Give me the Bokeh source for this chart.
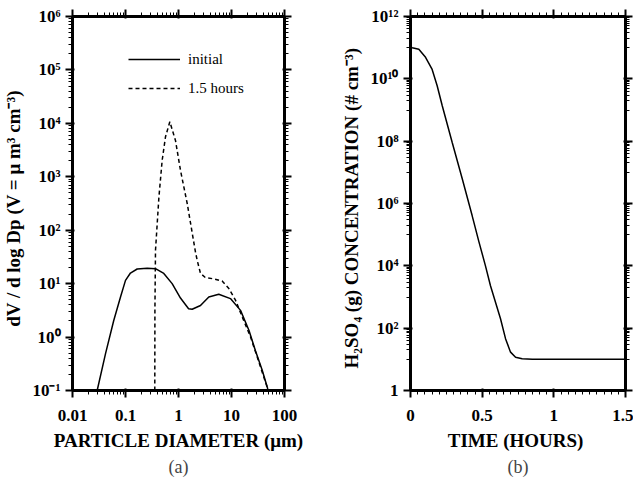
from bokeh.plotting import figure
from bokeh.layouts import row
from bokeh.models import (Range1d, FixedTicker, LogTicker, CustomJSTickFormatter, LogAxis, LinearAxis,
                          Legend, LegendItem, Title)
from bokeh.embed import file_html
from bokeh.resources import INLINE

# ---------------- data: panel (a) ----------------
# particle diameter (um) and dV/dlogDp (um^3 cm^-3)
d_initial = [0.0292, 0.042, 0.060, 0.0805, 0.100, 0.124, 0.166, 0.257, 0.368, 0.528, 0.759,
             1.09, 1.55, 1.81, 2.60, 3.73, 5.75, 9.55, 14.8, 21.4, 28.2, 38.0, 48.4]
v_initial = [0.1, 0.49, 2.04, 5.62, 11.5, 15.8, 18.8, 19.5, 19.1, 15.5, 10.0,
             5.37, 3.39, 3.31, 3.89, 5.62, 6.31, 5.25, 3.16, 1.33, 0.56, 0.24, 0.107]
d_15h = [0.357, 0.359, 0.368, 0.427, 0.492, 0.569, 0.686, 0.877, 1.09, 1.46, 2.09, 2.25,
         2.60, 3.24, 4.63, 6.65, 8.91, 11.9, 17.0, 22.9, 30.5, 40.7, 48.4]
v_15h = [0.1, 3.16, 41.7, 417, 2040, 5620, 10700, 4790, 1320, 316, 38.9, 27.5,
         15.5, 12.9, 12.3, 11.2, 8.1, 4.9, 2.04, 1.0, 0.427, 0.178, 0.107]
legend_labels = ["initial", "1.5 hours"]

# ---------------- data: panel (b) ----------------
t_hours = [0.0, 0.012, 0.058, 0.105, 0.151, 0.186, 0.221, 0.291, 0.361, 0.43, 0.477, 0.523,
           0.558, 0.628, 0.663, 0.698, 0.733, 0.779, 0.85, 1.0, 1.25, 1.5]
h2so4 = [1.05e11, 1.0e11, 8.9e10, 4.9e10, 2.0e10, 6.0e9, 1.4e9, 9.1e7, 6.2e6, 4.1e5, 6.0e4, 1.0e4,
         2.3e3, 2.0e2, 46, 17, 11.7, 10.5, 10, 10, 10, 10]
b_x_ticks = [0, 0.5, 1, 1.5]

SERIF = "Liberation Serif"

sup_code = """
const sup = {"0":"\u2070","1":"\u00b9","2":"\u00b2","3":"\u00b3","4":"\u2074","5":"\u2075",
             "6":"\u2076","7":"\u2077","8":"\u2078","9":"\u2079","-":"\u207b"};
if (tick <= 0) return "";
const e = Math.round(Math.log10(tick));
if (e == 0 && one) return "1";
return "10" + String(e).split("").map(c => sup[c]).join("");
"""
num_code = "return parseFloat(tick.toPrecision(6)).toString();"


def style_axis(ax):
    ax.axis_line_width = 3
    ax.axis_line_color = "black"
    ax.major_tick_out = 7
    ax.major_tick_line_width = 2
    ax.minor_tick_out = 4
    ax.major_label_text_font = SERIF
    ax.major_label_text_font_style = "bold"
    ax.major_label_text_font_size = "17px"
    ax.major_label_text_color = "black"
    ax.axis_label_text_font = SERIF
    ax.axis_label_text_font_style = "bold"
    ax.axis_label_text_font_size = "19px"
    ax.axis_label_text_color = "black"


def mirror(ax):
    style_axis(ax)
    ax.formatter = CustomJSTickFormatter(code="return ''")
    ax.major_label_text_font_size = "1px"
    ax.major_label_standoff = 0


def base_fig(xtype, min_left, fw, min_right, min_top, min_bottom, x_range, y_range):
    p = figure(x_axis_type=xtype, y_axis_type="log", x_range=x_range, y_range=y_range,
               frame_width=fw, frame_height=374, min_border_left=min_left,
               min_border_right=min_right, min_border_top=min_top, min_border_bottom=min_bottom,
               output_backend="svg", toolbar_location=None)
    p.xgrid.visible = False
    p.ygrid.visible = False
    p.outline_line_color = "black"
    p.outline_line_width = 2
    p.background_fill_color = "white"
    p.border_fill_color = "white"
    return p


# ---------------- panel (a) ----------------
pa = base_fig("log", 64, 212, 34, 15, 91, Range1d(0.01, 100), Range1d(0.1, 1e6))

r1 = pa.line(d_initial, v_initial, line_color="black", line_width=1.5)
r2 = pa.line(d_15h, v_15h, line_color="black", line_width=1.5, line_dash="4 3")

xa = pa.xaxis[0]
xa.ticker = LogTicker(num_minor_ticks=10)
xa.formatter = CustomJSTickFormatter(code=num_code)
xa.axis_label = "PARTICLE DIAMETER (\u03bcm)"
style_axis(xa)
xa.major_label_standoff = 12
xa.axis_label_standoff = 6

ya = pa.yaxis[0]
ya.ticker = LogTicker(num_minor_ticks=10)
ya.formatter = CustomJSTickFormatter(code=sup_code, args=dict(one=False))
ya.axis_label = "dV / d log  Dp  (V = \u03bc m\u00b3 cm\u207b\u00b3)"
style_axis(ya)
ya.major_label_standoff = 5
ya.axis_label_standoff = 5

top_a = LogAxis(ticker=LogTicker(num_minor_ticks=10))
right_a = LogAxis(ticker=LogTicker(num_minor_ticks=10))
mirror(top_a)
mirror(right_a)
pa.add_layout(top_a, "above")
pa.add_layout(right_a, "right")

leg = Legend(items=[LegendItem(label=legend_labels[0], renderers=[r1]),
                    LegendItem(label=legend_labels[1], renderers=[r2])],
             location=(56, 292), glyph_width=52, glyph_height=20, label_height=20,
             label_standoff=8, spacing=9, padding=0, margin=0,
             border_line_alpha=0, background_fill_alpha=0,
             label_text_font=SERIF, label_text_font_size="15px", label_text_color="black")
pa.add_layout(leg)
pa.add_layout(Title(text="(a)", align="center", text_font=SERIF, text_font_style="normal",
                    text_font_size="18px", standoff=2), "below")

# ---------------- panel (b) ----------------
pb = base_fig("linear", 92, 215, 8, 16, 90, Range1d(0, 1.5), Range1d(1, 1e12))
bx_minor = [i * 0.05 for i in range(31)]
xt_b = FixedTicker(ticks=b_x_ticks, minor_ticks=bx_minor)

pb.line(t_hours, h2so4, line_color="black", line_width=1.5)

xb = pb.xaxis[0]
xb.ticker = xt_b
xb.formatter = CustomJSTickFormatter(code=num_code)
xb.axis_label = "TIME  (HOURS)"
style_axis(xb)
xb.major_label_standoff = 12
xb.axis_label_standoff = 6

yb = pb.yaxis[0]
yb.ticker = LogTicker(num_minor_ticks=10, desired_num_ticks=6)
yb.formatter = CustomJSTickFormatter(code=sup_code, args=dict(one=True))
yb.axis_label = "H\u2082SO\u2084 (g)  CONCENTRATION  (# cm\u207b\u00b3)"
style_axis(yb)
yb.major_label_standoff = 5
yb.axis_label_standoff = 5

top_b = LinearAxis(ticker=FixedTicker(ticks=b_x_ticks, minor_ticks=bx_minor))
right_b = LogAxis(ticker=LogTicker(num_minor_ticks=10, desired_num_ticks=6))
mirror(top_b)
mirror(right_b)
pb.add_layout(top_b, "above")
pb.add_layout(right_b, "right")
pb.add_layout(Title(text="(b)", align="center", text_font=SERIF, text_font_style="normal",
                    text_font_size="18px", standoff=2), "below")

layout = row(pa, pb)
open("out.html", "w").write(file_html(layout, INLINE))
